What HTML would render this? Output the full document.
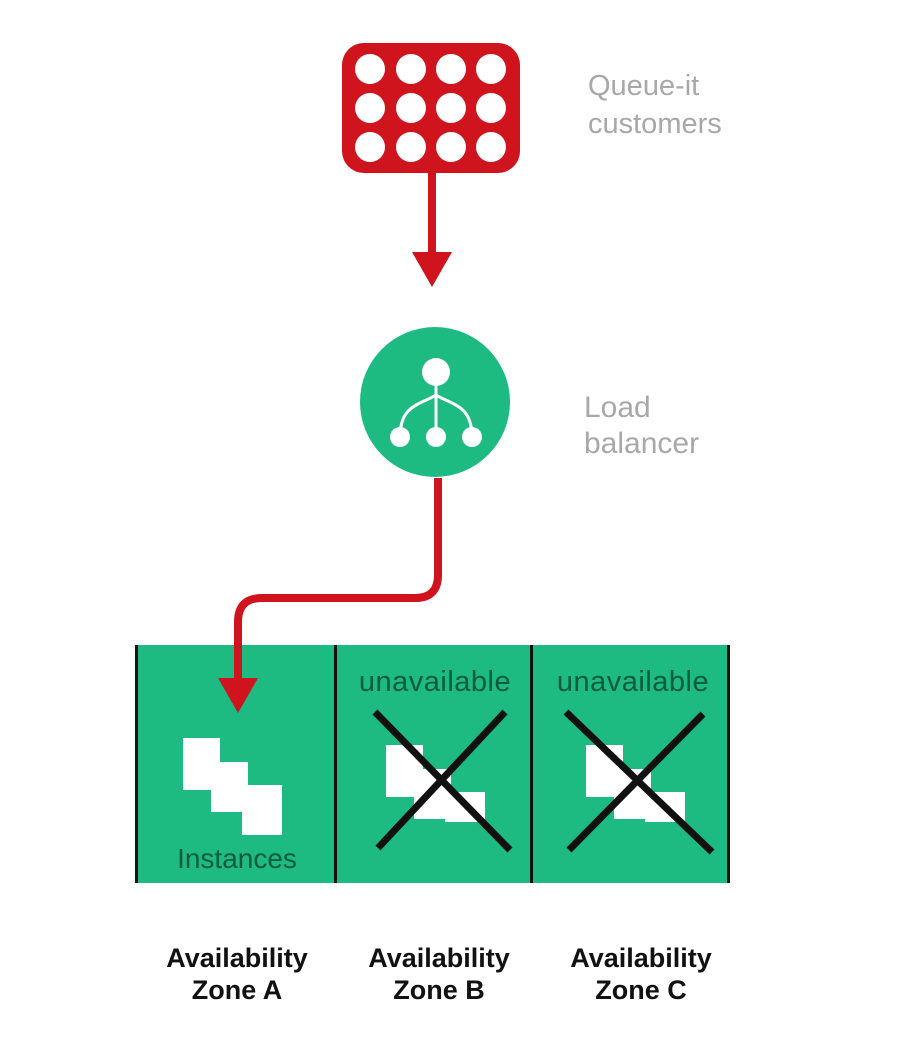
<!DOCTYPE html>
<html><head><style>
html,body{margin:0;padding:0;background:#fff;}
svg{display:block}
</style></head><body>
<svg width="924" height="1057" viewBox="0 0 924 1057" xmlns="http://www.w3.org/2000/svg">
<rect width="924" height="1057" fill="#fff"/>
<!-- queue box -->
<rect x="342" y="43" width="178" height="130" rx="22" fill="#d0141e"/>
<g fill="#fff">
<circle cx="370" cy="69" r="15"/><circle cx="411" cy="69" r="15"/><circle cx="451" cy="69" r="15"/><circle cx="491" cy="69" r="15"/>
<circle cx="370" cy="108" r="15"/><circle cx="411" cy="108" r="15"/><circle cx="451" cy="108" r="15"/><circle cx="491" cy="108" r="15"/>
<circle cx="370" cy="147" r="15"/><circle cx="411" cy="147" r="15"/><circle cx="451" cy="147" r="15"/><circle cx="491" cy="147" r="15"/>
</g>
<rect x="428" y="172" width="8" height="84" fill="#d0141e"/>
<polygon points="412,252 452,252 432,287" fill="#d0141e"/>
<text x="588" y="95" font-family="Liberation Sans, sans-serif" font-size="29" fill="#a8a8a8">Queue-it</text>
<text x="588" y="133" font-family="Liberation Sans, sans-serif" font-size="29" fill="#a8a8a8">customers</text>
<!-- load balancer -->
<circle cx="435" cy="402" r="75" fill="#1dba82"/>
<g stroke="#fff" stroke-width="3" fill="none">
<path d="M436 380 V437"/>
<path d="M436 395 C420 405 400 405 400 437"/>
<path d="M436 395 C452 405 472 405 472 437"/>
</g>
<g fill="#fff">
<circle cx="436" cy="372" r="14"/>
<circle cx="400" cy="437" r="10"/><circle cx="436" cy="437" r="10"/><circle cx="472" cy="437" r="10"/>
</g>
<text x="584" y="417" font-family="Liberation Sans, sans-serif" font-size="30" fill="#a8a8a8">Load</text>
<text x="584" y="453" font-family="Liberation Sans, sans-serif" font-size="30" fill="#a8a8a8">balancer</text>
<!-- zones -->
<rect x="136" y="645" width="594" height="238" fill="#1dba82"/>
<g fill="#111">
<rect x="135" y="645" width="3" height="238"/>
<rect x="334" y="645" width="3" height="238"/>
<rect x="530" y="645" width="3" height="238"/>
<rect x="727" y="645" width="3" height="238"/>
</g>
<!-- red connector -->
<path d="M438 478 V575 Q438 598 415 598 H262 Q238 598 238 622 V682" stroke="#d0141e" stroke-width="8" fill="none"/>
<polygon points="218,678 258,678 238,713" fill="#d0141e"/>
<!-- instances A -->
<g fill="#fff">
<rect x="183" y="738" width="37" height="52"/>
<rect x="211" y="762" width="37" height="50"/>
<rect x="242" y="785" width="40" height="50"/>
</g>
<text x="237" y="868" text-anchor="middle" font-family="Liberation Sans, sans-serif" font-size="28" fill="#0d5c3c">Instances</text>
<!-- zone B -->
<text x="435" y="691" text-anchor="middle" font-family="Liberation Sans, sans-serif" font-size="29" letter-spacing="0.5" fill="#0d5c3c">unavailable</text>
<g fill="#fff">
<rect x="386" y="745" width="37" height="52"/>
<rect x="414" y="769" width="37" height="50"/>
<rect x="445" y="792" width="40" height="30"/>
</g>
<g stroke="#111" stroke-width="7">
<line x1="375" y1="712" x2="510" y2="850"/><line x1="505" y1="712" x2="378" y2="848"/>
</g>
<!-- zone C -->
<text x="633" y="691" text-anchor="middle" font-family="Liberation Sans, sans-serif" font-size="29" letter-spacing="0.5" fill="#0d5c3c">unavailable</text>
<g fill="#fff">
<rect x="586" y="745" width="37" height="52"/>
<rect x="614" y="769" width="37" height="50"/>
<rect x="645" y="792" width="40" height="30"/>
</g>
<g stroke="#111" stroke-width="7">
<line x1="566" y1="712" x2="712" y2="852"/><line x1="703" y1="714" x2="569" y2="850"/>
</g>
<!-- labels -->
<g font-family="Liberation Sans, sans-serif" font-size="27" font-weight="bold" fill="#111" text-anchor="middle">
<text x="237" y="967">Availability</text><text x="237" y="999">Zone A</text>
<text x="439" y="967">Availability</text><text x="439" y="999">Zone B</text>
<text x="641" y="967">Availability</text><text x="641" y="999">Zone C</text>
</g>
</svg>
</body></html>
